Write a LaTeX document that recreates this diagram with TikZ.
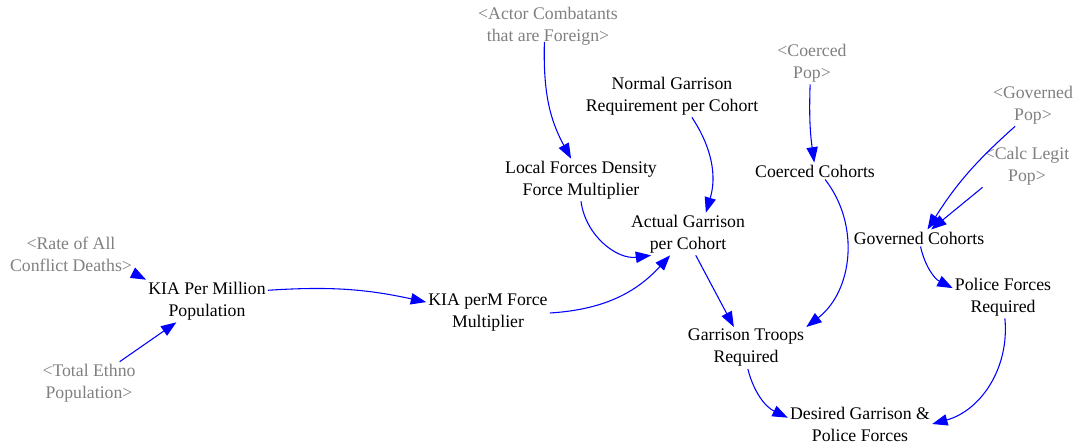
\documentclass[tikz,border=0pt]{standalone}
\usepackage{fontspec}
\setmainfont{Liberation Serif}
\usetikzlibrary{arrows.meta}
\definecolor{linkblue}{RGB}{0,0,255}
\definecolor{shadowgray}{RGB}{128,128,128}

\begin{document}
\begin{tikzpicture}[x=0.75pt,y=0.75pt,
  var/.style={align=center,inner sep=1.5pt,font=\fontsize{13.3}{16.5}\selectfont},
  shadowvar/.style={var,text=shadowgray},
  link/.style={color=linkblue,line width=0.8pt,-{Triangle[length=11.5pt,width=8.5pt]}}]
  \useasboundingbox (0,0) rectangle (1081,-447);

  \node[shadowvar] (rate) at (71,-254) {<Rate of All\\Conflict Deaths>};
  \node[var] (kia) at (207,-301) {KIA Per Million\\Population};
  \node[shadowvar] (ethno) at (89,-383) {<Total Ethno\\Population>};
  \node[var] (kiamult) at (488,-313) {KIA perM Force\\Multiplier};
  \node[shadowvar] (actor) at (548,-26) {<Actor Combatants\\that are Foreign>};
  \node[var] (normal) at (672,-96) {Normal Garrison\\Requirement per Cohort};
  \node[var] (local) at (581,-180) {Local Forces Density\\Force Multiplier};
  \node[var] (actual) at (688,-234) {Actual Garrison\\per Cohort};
  \node[shadowvar] (coercedpop) at (812,-63) {<Coerced\\Pop>};
  \node[var] (coerced) at (815,-171) {Coerced Cohorts};
  \node[shadowvar] (govpop) at (1033,-105) {<Governed\\Pop>};
  \node[shadowvar] (legit) at (1027,-166) {<Calc Legit\\Pop>};
  \node[var] (governed) at (919,-238) {Governed Cohorts};
  \node[var] (police) at (1003,-297) {Police Forces\\Required};
  \node[var] (garrison) at (746,-348) {Garrison Troops\\Required};
  \node[var] (desired) at (860,-424) {Desired Garrison \&\\Police Forces};

  \draw[link,shorten <=-4pt] (rate.south east) -- (kia.north west);
  \draw[link] (ethno) -- (kia);
  \draw[link] (kia.10) to[bend left=8] (kiamult.170);
  \draw[link] (kiamult.east) to[bend right=22] (actual.-130);
  \draw[link,shorten <=-4pt] (actor.-100) to[bend right=15] (local.115);
  \draw[link] (normal.-47) to[bend left=25] (actual.50);
  \draw[link] (local.-90) to[bend right=45] (actual.-150);
  \draw[link] (actual.-70) -- (garrison.120);
  \draw[link] (coercedpop.-95) to[bend right=5] (coerced.95);
  \draw[link] (coerced.-40) to[bend left=45] (garrison.north east);
  \draw[link] (govpop.-130) to[bend right=8] (governed.45);
  \draw[link] (legit.south west) -- (governed.35);
  \draw[link] (governed.-80) to[bend right=25] (police.170);
  \draw[link] (garrison.-85) to[bend right=25] (desired.175);
  \draw[link] (police.-85) to[bend left=40] (desired.0);
\end{tikzpicture}
\end{document}
